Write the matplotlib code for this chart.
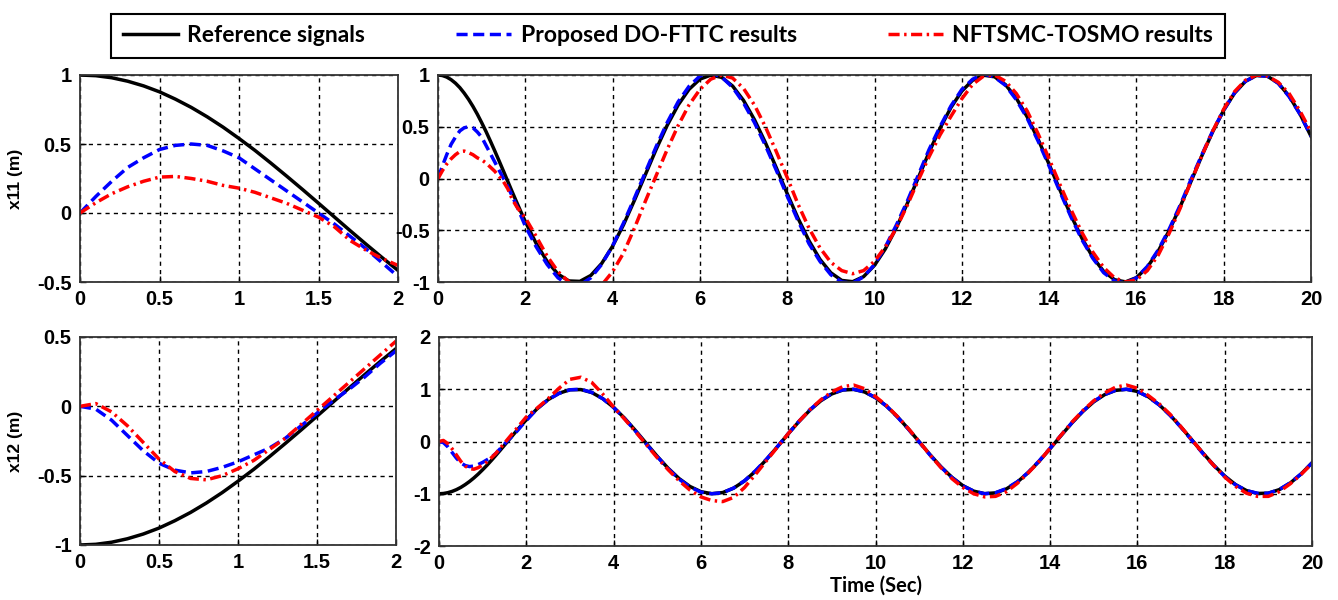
import matplotlib
matplotlib.use("Agg")
import matplotlib.pyplot as plt
from matplotlib.lines import Line2D
from matplotlib.ticker import FormatStrFormatter

plt.rcParams["axes.unicode_minus"] = False
plt.rcParams["font.family"] = "Liberation Sans"
plt.rcParams["font.weight"] = "bold"

# time samples: fine grid for the zoomed view, coarser for the rest
t_zoom = [0.0, 0.1, 0.2, 0.3, 0.4, 0.5, 0.6, 0.7, 0.8, 0.9, 1.0,
          1.1, 1.2, 1.3, 1.4, 1.5, 1.6, 1.7, 1.8, 1.9, 2.0]
t_rest = [2.25, 2.5, 2.75, 3.0, 3.25, 3.5, 3.75, 4.0,
          4.25, 4.5, 4.75, 5.0, 5.25, 5.5, 5.75, 6.0,
          6.25, 6.5, 6.75, 7.0, 7.25, 7.5, 7.75, 8.0,
          8.25, 8.5, 8.75, 9.0, 9.25, 9.5, 9.75, 10.0,
          10.25, 10.5, 10.75, 11.0, 11.25, 11.5, 11.75, 12.0,
          12.25, 12.5, 12.75, 13.0, 13.25, 13.5, 13.75, 14.0,
          14.25, 14.5, 14.75, 15.0, 15.25, 15.5, 15.75, 16.0,
          16.25, 16.5, 16.75, 17.0, 17.25, 17.5, 17.75, 18.0,
          18.25, 18.5, 18.75, 19.0, 19.25, 19.5, 19.75, 20.0]

# x11
ref_x11_zoom = [1.000, 0.995, 0.980, 0.955, 0.921, 0.878, 0.825, 0.765, 0.697, 0.622, 0.540,
                0.454, 0.362, 0.267, 0.170, 0.071, -0.029, -0.129, -0.227, -0.323, -0.416]
dofttc_x11_zoom = [0.00, 0.12, 0.23, 0.33, 0.40, 0.46, 0.49, 0.50, 0.49, 0.45, 0.40,
                   0.32, 0.24, 0.16, 0.08, 0.00, -0.08, -0.17, -0.26, -0.36, -0.46]
nftsmc_x11_zoom = [0.00, 0.075, 0.14, 0.19, 0.23, 0.26, 0.265, 0.25, 0.23, 0.20, 0.18,
                   0.15, 0.11, 0.07, 0.02, -0.03, -0.10, -0.20, -0.27, -0.33, -0.38]

ref_x11_rest = [-0.628, -0.801, -0.924, -0.990, -0.994, -0.937, -0.821, -0.654,
                -0.447, -0.211, 0.037, 0.284, 0.513, 0.709, 0.861, 0.960,
                0.999, 0.977, 0.893, 0.754, 0.568, 0.347, 0.104, -0.146,
                -0.386, -0.602, -0.781, -0.911, -0.985, -0.997, -0.948, -0.839,
                -0.679, -0.476, -0.243, 0.004, 0.253, 0.484, 0.685, 0.844,
                0.950, 0.998, 0.983, 0.907, 0.775, 0.594, 0.377, 0.137,
                -0.112, -0.355, -0.575, -0.760, -0.897, -0.978, -0.999, -0.958,
                -0.857, -0.702, -0.504, -0.275, -0.029, 0.220, 0.454, 0.660,
                0.826, 0.940, 0.995, 0.989, 0.921, 0.796, 0.622, 0.408]
dofttc_x11_rest = [-0.66, -0.83, -0.96, -1.03, -1.03, -0.96, -0.83, -0.65,
                   -0.43, -0.19, 0.06, 0.31, 0.54, 0.74, 0.89, 0.99,
                   1.02, 0.98, 0.88, 0.73, 0.54, 0.32, 0.08, -0.17,
                   -0.41, -0.63, -0.80, -0.93, -1.00, -1.01, -0.95, -0.83,
                   -0.66, -0.45, -0.22, 0.03, 0.28, 0.50, 0.70, 0.86,
                   0.96, 1.01, 0.98, 0.90, 0.76, 0.58, 0.36, 0.12,
                   -0.13, -0.37, -0.59, -0.77, -0.91, -0.99, -1.01, -0.96,
                   -0.85, -0.69, -0.49, -0.26, -0.01, 0.23, 0.46, 0.66,
                   0.83, 0.94, 0.995, 0.99, 0.92, 0.79, 0.62, 0.41]
nftsmc_x11_rest = [-0.56, -0.75, -0.90, -1.00, -1.05, -1.07, -1.03, -0.90,
                   -0.72, -0.48, -0.22, 0.03, 0.28, 0.51, 0.71, 0.86,
                   0.96, 1.00, 0.97, 0.87, 0.71, 0.50, 0.26, 0.01,
                   -0.25, -0.48, -0.67, -0.81, -0.89, -0.92, -0.89, -0.80,
                   -0.66, -0.48, -0.26, -0.02, 0.21, 0.42, 0.60, 0.77,
                   0.91, 0.99, 1.00, 0.94, 0.82, 0.65, 0.43, 0.19,
                   -0.06, -0.30, -0.52, -0.71, -0.86, -0.96, -1.00, -0.98,
                   -0.89, -0.74, -0.53, -0.29, -0.03, 0.22, 0.46, 0.67,
                   0.84, 0.95, 1.00, 0.99, 0.93, 0.82, 0.65, 0.45]

# x12
ref_x12_zoom = [-1.000, -0.995, -0.980, -0.955, -0.921, -0.878, -0.825, -0.765, -0.697, -0.622, -0.540,
                -0.454, -0.362, -0.267, -0.170, -0.071, 0.029, 0.129, 0.227, 0.323, 0.416]
dofttc_x12_zoom = [0.00, -0.02, -0.10, -0.21, -0.32, -0.41, -0.46, -0.48, -0.47, -0.44, -0.40,
                   -0.35, -0.30, -0.23, -0.14, -0.05, 0.04, 0.12, 0.21, 0.31, 0.40]
nftsmc_x12_zoom = [0.00, 0.02, -0.04, -0.14, -0.26, -0.38, -0.47, -0.52, -0.53, -0.50, -0.45,
                   -0.39, -0.31, -0.23, -0.13, -0.03, 0.07, 0.17, 0.27, 0.37, 0.47]

ref_x12_rest = [0.628, 0.801, 0.924, 0.990, 0.994, 0.937, 0.821, 0.654,
                0.447, 0.211, -0.037, -0.284, -0.513, -0.709, -0.861, -0.960,
                -0.999, -0.977, -0.893, -0.754, -0.568, -0.347, -0.104, 0.146,
                0.386, 0.602, 0.781, 0.911, 0.985, 0.997, 0.948, 0.839,
                0.679, 0.476, 0.243, -0.004, -0.253, -0.484, -0.685, -0.844,
                -0.950, -0.998, -0.983, -0.907, -0.775, -0.594, -0.377, -0.137,
                0.112, 0.355, 0.575, 0.760, 0.897, 0.978, 0.999, 0.958,
                0.857, 0.702, 0.504, 0.275, 0.029, -0.220, -0.454, -0.660,
                -0.826, -0.940, -0.995, -0.989, -0.921, -0.796, -0.622, -0.408]
dofttc_x12_rest = [0.63, 0.80, 0.92, 0.99, 1.00, 0.94, 0.82, 0.65,
                   0.44, 0.20, -0.05, -0.29, -0.52, -0.72, -0.87, -0.97,
                   -1.00, -0.98, -0.89, -0.75, -0.56, -0.34, -0.10, 0.15,
                   0.39, 0.61, 0.79, 0.92, 0.99, 1.00, 0.95, 0.84,
                   0.68, 0.47, 0.24, -0.01, -0.26, -0.49, -0.69, -0.85,
                   -0.95, -1.00, -0.98, -0.90, -0.77, -0.59, -0.37, -0.13,
                   0.12, 0.36, 0.58, 0.77, 0.90, 0.98, 1.00, 0.96,
                   0.85, 0.70, 0.50, 0.27, 0.02, -0.23, -0.46, -0.67,
                   -0.83, -0.94, -0.99, -0.99, -0.92, -0.79, -0.62, -0.41]
nftsmc_x12_rest = [0.64, 0.82, 1.02, 1.19, 1.23, 1.13, 0.91, 0.66,
                   0.43, 0.19, -0.06, -0.31, -0.54, -0.75, -0.93, -1.06,
                   -1.13, -1.15, -1.07, -0.88, -0.63, -0.37, -0.11, 0.15,
                   0.39, 0.61, 0.80, 0.95, 1.05, 1.08, 1.01, 0.86,
                   0.69, 0.48, 0.25, 0.00, -0.26, -0.50, -0.71, -0.88,
                   -1.00, -1.06, -1.05, -0.96, -0.80, -0.60, -0.38, -0.13,
                   0.12, 0.37, 0.59, 0.78, 0.93, 1.04, 1.08, 1.02,
                   0.88, 0.72, 0.52, 0.28, 0.03, -0.22, -0.46, -0.68,
                   -0.86, -0.99, -1.05, -1.05, -0.96, -0.81, -0.63, -0.42]

labels = ["Reference signals", "Proposed DO-FTTC results", "NFTSMC-TOSMO results"]

LW = 2.5
styles = [
    dict(color="black", linestyle="-", linewidth=LW),
    dict(color="blue", linestyle=(0, (3.2, 1.6)), linewidth=LW),
    dict(color="red", linestyle=(0, (3.2, 1.3, 0.7, 1.3)), linewidth=LW),
]


def style_axes(ax, xlim, ylim, xticks, yticks):
    ax.set_xlim(xlim)
    ax.set_ylim(ylim)
    ax.set_xticks(xticks)
    ax.set_yticks(yticks)
    ax.xaxis.set_major_formatter(FormatStrFormatter("%g"))
    ax.yaxis.set_major_formatter(FormatStrFormatter("%g"))
    ax.grid(True, color="black", linestyle=(0, (3, 3)), linewidth=1.0)
    ax.tick_params(direction="in", length=4, width=1, pad=6, labelsize=14.5)
    for sp in ax.spines.values():
        sp.set_linewidth(1.3)
        sp.set_color("#333333")


def draw(ax, t, series):
    for y, st in zip(series, styles):
        ax.plot(t, y, **st)


fig = plt.figure(figsize=(13.38, 6), dpi=100)
W, H = 1338, 600
ax_tl = fig.add_axes([80 / W, 1 - 282 / H, 318 / W, 207 / H])
ax_tr = fig.add_axes([438 / W, 1 - 282 / H, 873 / W, 207 / H])
ax_bl = fig.add_axes([80 / W, 1 - 545 / H, 316 / W, 208 / H])
ax_br = fig.add_axes([439 / W, 1 - 546 / H, 873 / W, 209 / H])

t_full = t_zoom + t_rest

draw(ax_tl, t_zoom, [ref_x11_zoom, dofttc_x11_zoom, nftsmc_x11_zoom])
draw(ax_tr, t_full, [ref_x11_zoom + ref_x11_rest,
                     dofttc_x11_zoom + dofttc_x11_rest,
                     nftsmc_x11_zoom + nftsmc_x11_rest])
draw(ax_bl, t_zoom, [ref_x12_zoom, dofttc_x12_zoom, nftsmc_x12_zoom])
draw(ax_br, t_full, [ref_x12_zoom + ref_x12_rest,
                     dofttc_x12_zoom + dofttc_x12_rest,
                     nftsmc_x12_zoom + nftsmc_x12_rest])

style_axes(ax_tl, (0, 2), (-0.5, 1), [0, 0.5, 1, 1.5, 2], [-0.5, 0, 0.5, 1])
style_axes(ax_tr, (0, 20), (-1, 1), list(range(0, 21, 2)), [-1, -0.5, 0, 0.5, 1])
style_axes(ax_bl, (0, 2), (-1, 0.5), [0, 0.5, 1, 1.5, 2], [-1, -0.5, 0, 0.5])
style_axes(ax_br, (0, 20), (-2, 2), list(range(0, 21, 2)), [-2, -1, 0, 1, 2])

ax_tl.set_ylabel("x11 (m)", labelpad=10, fontsize=12.5, fontweight="bold")
ax_bl.set_ylabel("x12 (m)", labelpad=10, fontsize=12.5, fontweight="bold")
ax_br.set_xlabel("Time (Sec)", family="Lato", fontweight="bold", fontsize=14.5, labelpad=2)

handles = [Line2D([], [], **st) for st in styles]
leg = fig.legend(handles, labels, loc="center", ncol=3, mode="expand",
                 bbox_to_anchor=(100 / W, 1 - 62 / H, 1136 / W, 52 / H),
                 bbox_transform=fig.transFigure, fancybox=False,
                 edgecolor="black", framealpha=1, borderpad=0.5,
                 handlelength=2.4, handletextpad=0.4,
                 prop=dict(family="Lato", weight="bold", size=16.5))
leg.get_frame().set_linewidth(1.5)

fig.savefig("out.png", dpi=100)
